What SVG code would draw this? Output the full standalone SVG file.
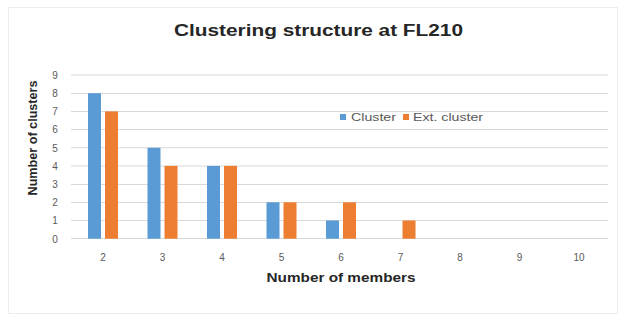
<svg xmlns="http://www.w3.org/2000/svg" width="627" height="320" viewBox="0 0 627 320">
<style>
.grid{stroke:#d9d9d9;stroke-width:1}
.tick{font-family:"Liberation Sans",Arial,sans-serif;font-size:10px;fill:#595959}
.ttl{font-family:"Liberation Sans",Arial,sans-serif;font-weight:bold;fill:#262626}
.blue{fill:#5B9BD5}
.orange{fill:#ED7D31}
</style>
<rect x="0" y="0" width="627" height="320" fill="#ffffff"/>
<rect x="8.5" y="7.5" width="609" height="306" fill="none" stroke="#ececec"/>
<g id="title"><text class="ttl" x="318.5" y="36" font-size="16" text-anchor="middle" textLength="289" lengthAdjust="spacingAndGlyphs">Clustering structure at FL210</text></g>
<g id="gridlines">
<line class="grid" x1="71" y1="238.5" x2="608" y2="238.5"/>
<line class="grid" x1="71" y1="220.5" x2="608" y2="220.5"/>
<line class="grid" x1="71" y1="202.5" x2="608" y2="202.5"/>
<line class="grid" x1="71" y1="184.5" x2="608" y2="184.5"/>
<line class="grid" x1="71" y1="166" x2="608" y2="166"/>
<line class="grid" x1="71" y1="147.75" x2="608" y2="147.75"/>
<line class="grid" x1="71" y1="129.5" x2="608" y2="129.5"/>
<line class="grid" x1="71" y1="111.5" x2="608" y2="111.5"/>
<line class="grid" x1="71" y1="93.5" x2="608" y2="93.5"/>
<line class="grid" x1="71" y1="75" x2="608" y2="75"/>
</g>
<g id="y-labels" text-anchor="middle">
<text class="tick" x="55" y="242.5">0</text>
<text class="tick" x="55" y="224">1</text>
<text class="tick" x="55" y="206">2</text>
<text class="tick" x="55" y="188">3</text>
<text class="tick" x="55" y="169.5">4</text>
<text class="tick" x="55" y="151.5">5</text>
<text class="tick" x="55" y="133">6</text>
<text class="tick" x="55" y="115">7</text>
<text class="tick" x="55" y="97">8</text>
<text class="tick" x="55" y="78.5">9</text>
</g>
<g id="x-labels" text-anchor="middle">
<text class="tick" x="103" y="261">2</text>
<text class="tick" x="162.5" y="261">3</text>
<text class="tick" x="222" y="261">4</text>
<text class="tick" x="281.5" y="261">5</text>
<text class="tick" x="341" y="261">6</text>
<text class="tick" x="400.5" y="261">7</text>
<text class="tick" x="460" y="261">8</text>
<text class="tick" x="519.5" y="261">9</text>
<text class="tick" x="579" y="261">10</text>
</g>
<g id="bars-cluster">
<rect class="blue" x="88" y="93.2" width="13" height="145.5"/>
<rect class="blue" x="147.5" y="147.75" width="13" height="90.95"/>
<rect class="blue" x="207" y="165.9" width="13" height="72.8"/>
<rect class="blue" x="266.5" y="202.3" width="13" height="36.4"/>
<rect class="blue" x="326" y="220.5" width="13" height="18.2"/>
</g>
<g id="bars-ext-cluster">
<rect class="orange" x="105" y="111.4" width="13" height="127.3"/>
<rect class="orange" x="164.5" y="165.9" width="13" height="72.8"/>
<rect class="orange" x="224" y="165.9" width="13" height="72.8"/>
<rect class="orange" x="283.5" y="202.3" width="13" height="36.4"/>
<rect class="orange" x="343" y="202.3" width="13" height="36.4"/>
<rect class="orange" x="402.5" y="220.5" width="13" height="18.2"/>
</g>
<g id="legend">
<rect class="blue" x="340" y="114" width="6" height="6"/>
<text class="tick" x="351" y="120.5" textLength="45" lengthAdjust="spacingAndGlyphs">Cluster</text>
<rect class="orange" x="403" y="114" width="6" height="6"/>
<text class="tick" x="413" y="120.5" textLength="70" lengthAdjust="spacingAndGlyphs">Ext. cluster</text>
</g>
<g id="x-title"><text class="ttl" x="341" y="282" font-size="12" text-anchor="middle" textLength="149" lengthAdjust="spacingAndGlyphs">Number of members</text></g>
<g id="y-title"><text class="ttl" transform="translate(37,138) rotate(-90)" x="0" y="0" font-size="12" text-anchor="middle" textLength="115" lengthAdjust="spacingAndGlyphs">Number of clusters</text></g>
</svg>
